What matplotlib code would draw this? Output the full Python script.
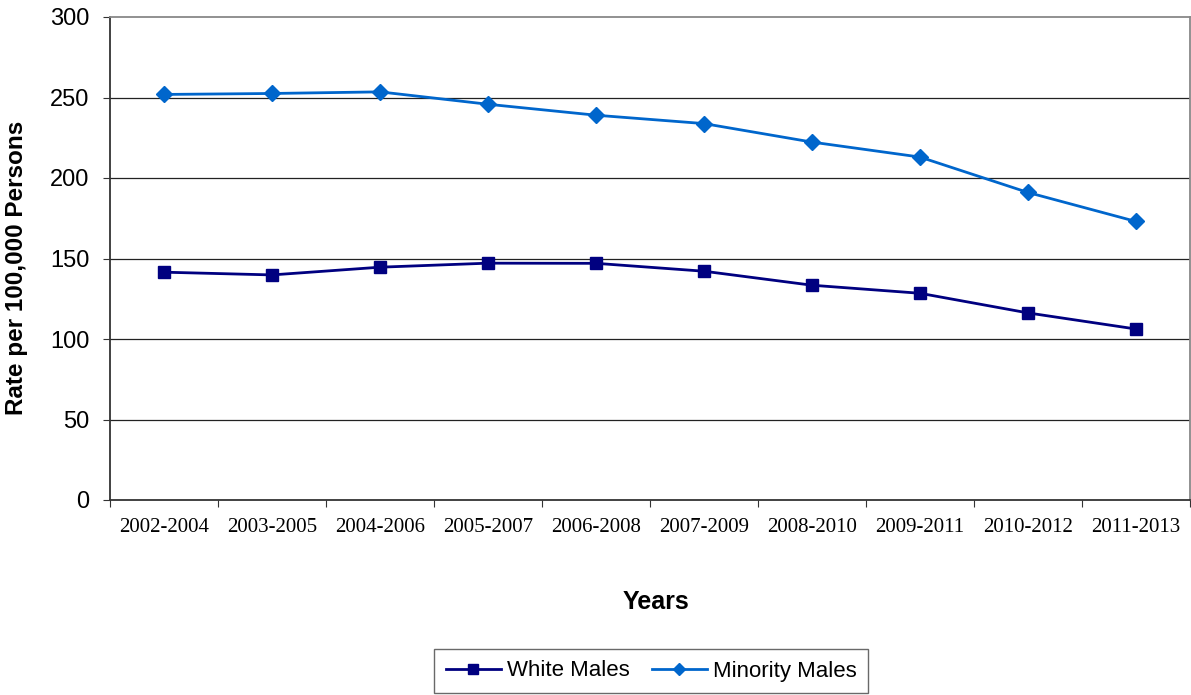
import matplotlib
matplotlib.use("Agg")
import matplotlib.pyplot as plt
import numpy as np

categories = ["2002-2004", "2003-2005", "2004-2006", "2005-2007", "2006-2008",
              "2007-2009", "2008-2010", "2009-2011", "2010-2012", "2011-2013"]
white_males = [141.5, 139.8, 144.6, 147.1, 147.0, 142.1, 133.4, 128.4, 116.2, 106.2]
minority_males = [251.9, 252.5, 253.5, 245.8, 239.0, 233.8, 222.3, 213.0, 191.0, 173.0]
y_ticks = [0, 50, 100, 150, 200, 250, 300]

fig = plt.figure(figsize=(11.91, 6.95), dpi=100)
ax = fig.add_axes([110/1191, 1 - 500/695, 1080/1191, 483/695])

x = np.arange(len(categories))
ax.plot(x, white_males, color="#000080", marker="s", markersize=9, lw=2,
        label="White Males", zorder=3)
ax.plot(x, minority_males, color="#0066CC", marker="D", markersize=8.5, lw=2,
        label="Minority Males", zorder=3)

ax.set_xlim(-0.5, len(categories) - 0.5)
ax.set_ylim(0, 300)
ax.set_yticks(y_ticks)
ax.set_yticklabels([str(v) for v in y_ticks], fontsize=17, family="Liberation Sans")
for v in y_ticks[1:-1]:
    ax.axhline(v, color="#222222", lw=0.9, zorder=1)

ax.set_xticks(np.arange(-0.5, len(categories)), minor=False)
ax.set_xticklabels([])
ax.set_xticks(x, minor=True)
ax.set_xticklabels(categories, minor=True, fontsize=15, family="Liberation Serif")
ax.tick_params(axis="x", which="minor", length=0, pad=13)
ax.tick_params(axis="x", which="major", length=5, direction="out", color="#333333")
ax.tick_params(axis="y", length=5, direction="out", color="#333333", pad=10)

for s in ["left", "bottom"]:
    ax.spines[s].set_color("#333333")
    ax.spines[s].set_linewidth(1.3)
for s in ["top", "right"]:
    ax.spines[s].set_color("#888888")
    ax.spines[s].set_linewidth(1.3)

fig.text(17/1191, 1 - 268/695, "Rate per 100,000 Persons", rotation=90,
         ha="center", va="center", fontsize=17.5, fontweight="bold",
         family="Liberation Sans")
fig.text(656/1191, 1 - 602/695, "Years", ha="center", va="center", fontsize=18,
         fontweight="bold", family="Liberation Sans")

leg = fig.legend(loc="center", bbox_to_anchor=(651/1191, 1 - 671/695), ncol=2,
                 frameon=True, fancybox=False,
                 prop={"family": "Liberation Sans", "size": 16},
                 handlelength=2.5, columnspacing=1.0, handletextpad=0.25,
                 borderpad=0.5, markerscale=0.75)
leg.get_frame().set_edgecolor("#444444")
leg.get_frame().set_linewidth(1.0)

fig.savefig("out.png", dpi=100)
